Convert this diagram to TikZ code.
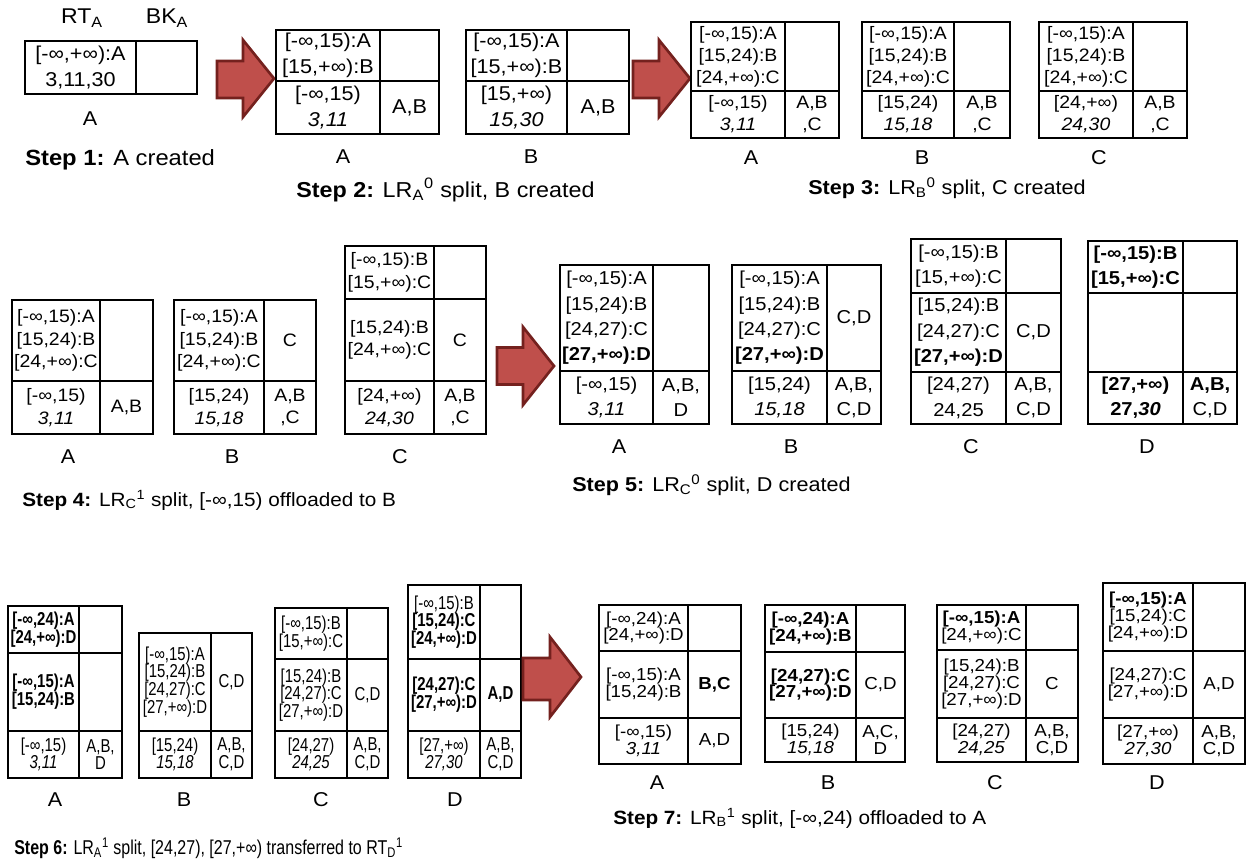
\documentclass[tikz,border=0pt]{standalone}
\usepackage{fontspec}
\setmainfont[FakeStretch=1.08]{Liberation Sans}
\newfontfamily\narrowf[FakeStretch=0.8]{Liberation Sans}
\definecolor{arrfill}{HTML}{BF4F4B}
\definecolor{arrdraw}{HTML}{74211E}
\tikzset{
  box/.style={line width=1.1pt},
  heavy/.style={line width=2pt},
  cA/.style={align=center,inner sep=0pt,font=\fontsize{15}{19}\selectfont},
  cB/.style={align=center,inner sep=0pt,font=\fontsize{13.5}{16.5}\selectfont},
  cC/.style={align=center,inner sep=0pt,font=\fontsize{13.5}{17}\selectfont},
  cD/.style={align=center,inner sep=0pt,font=\fontsize{14}{19}\selectfont},
  cE/.style={align=center,inner sep=0pt,font=\narrowf\fontsize{14}{13.3}\selectfont},
  cF/.style={align=center,inner sep=0pt,font=\fontsize{13}{12.5}\selectfont},
  lbl/.style={inner sep=0pt,font=\fontsize{15}{18}\selectfont},
  hdr/.style={inner sep=0pt,font=\fontsize{16}{19}\selectfont},
  captxt/.style={anchor=west,inner sep=0pt,font=\fontsize{15}{19}\selectfont},
  captxtn/.style={anchor=west,inner sep=0pt,font=\narrowf\fontsize{15}{16}\selectfont},
  bigarrow/.style={fill=arrfill,draw=arrdraw,line width=2pt,line join=miter}
}
\begin{document}
\begin{tikzpicture}[x=0.75pt,y=-0.75pt]
\useasboundingbox (0,0) rectangle (1247,862);
\fill[white] (0,0) rectangle (1247,862);

% ---------------- Step 1 ----------------
\node[hdr] (rta) at (82,18) {RT\textsubscript{A}};
\node[hdr] (bka) at (167,18) {BK\textsubscript{A}};
\draw[box] (25,41) rectangle (197,94) (136,41) -- (136,94);
\node[cA] (s1tl) at (80.5,67.5) {[-∞,+∞):A\\3,11,30};
\node[lbl] (s1l) at (90,119) {A};
\node[captxt,font=\fontsize{16.5}{19}\selectfont] (s1c) at (25,160) {\textbf{Step 1:} A created};

\draw[bigarrow] (217,61) -- (243,61) -- (243,40) -- (274,78.5) -- (243,117) -- (243,98) -- (217,98) -- cycle;

% ---------------- Step 2 ----------------
\draw[box] (276,30) rectangle (439,134) (380,30) -- (380,134) (276,81) -- (439,81);
\node[cA] (s2atl) at (328,55.5) {[-∞,15):A\\{}[15,+∞):B};
\node[cA] (s2abl) at (328,107.5) {[-∞,15)\\\textit{3,11}};
\node[cA] (s2abr) at (409.5,107.5) {A,B};
\node[lbl] (s2al) at (343,157) {A};
\draw[box] (466,30) rectangle (629,134) (567,30) -- (567,134) (466,81) -- (629,81);
\node[cA] (s2btl) at (516.5,55.5) {[-∞,15):A\\{}[15,+∞):B};
\node[cA] (s2bbl) at (516.5,107.5) {[15,+∞)\\\textit{15,30}};
\node[cA] (s2bbr) at (598,107.5) {A,B};
\node[lbl] (s2bl) at (531,157) {B};
\node[captxt,font=\fontsize{16.2}{19}\selectfont] (s2c) at (296,190) {\textbf{Step 2:} LR\textsubscript{A}\textsuperscript{0} split, B created};

\draw[bigarrow] (633,61) -- (659,61) -- (659,40) -- (690,78.5) -- (659,117) -- (659,98) -- (633,98) -- cycle;

% ---------------- Step 3 ----------------
\draw[box] (691,22) rectangle (839,138) (785,22) -- (785,138) (691,91) -- (839,91);
\node[cB] (s3atl) at (738,56.5) {[-∞,15):A\\{}[15,24):B\\{}[24,+∞):C};
\node[cB] (s3abl) at (738,114.5) {[-∞,15)\\\textit{3,11}};
\node[cB] (s3abr) at (812,114.5) {A,B\\,C};
\node[lbl] (s3al) at (751,158) {A};
\draw[box] (862,22) rectangle (1010,138) (954,22) -- (954,138) (862,91) -- (1010,91);
\node[cB] (s3btl) at (908,56.5) {[-∞,15):A\\{}[15,24):B\\{}[24,+∞):C};
\node[cB] (s3bbl) at (908,114.5) {[15,24)\\\textit{15,18}};
\node[cB] (s3bbr) at (982,114.5) {A,B\\,C};
\node[lbl] (s3bl) at (922,158) {B};
\draw[box] (1039,22) rectangle (1187,138) (1133,22) -- (1133,138) (1039,91) -- (1187,91);
\node[cB] (s3ctl) at (1086,56.5) {[-∞,15):A\\{}[15,24):B\\{}[24,+∞):C};
\node[cB] (s3cbl) at (1086,114.5) {[24,+∞)\\\textit{24,30}};
\node[cB] (s3cbr) at (1160,114.5) {A,B\\,C};
\node[lbl] (s3cl) at (1099,158) {C};
\node[captxt] (s3c) at (808,188) {\textbf{Step 3:} LR\textsubscript{B}\textsuperscript{0} split, C created};

% ---------------- Step 4 ----------------
\draw[box] (12,300) rectangle (153,434) (100,300) -- (100,434) (12,381) -- (153,381);
\node[cC] (s4atl) at (56,340.5) {[-∞,15):A\\{}[15,24):B\\{}[24,+∞):C};
\node[cC] (s4abl) at (56,407.5) {[-∞,15)\\\textit{3,11}};
\node[cC] (s4abr) at (126.5,407.5) {A,B};
\node[lbl] (s4al) at (68,457) {A};
\draw[box] (174,300) rectangle (316,434) (264,300) -- (264,434) (174,381) -- (316,381);
\node[cC] (s4btl) at (219,340.5) {[-∞,15):A\\{}[15,24):B\\{}[24,+∞):C};
\node[cC] (s4btr) at (290,340.5) {C};
\node[cC] (s4bbl) at (219,407.5) {[15,24)\\\textit{15,18}};
\node[cC] (s4bbr) at (290,407.5) {A,B\\,C};
\node[lbl] (s4bl) at (232,457) {B};
\draw[box] (345,246) rectangle (486,434) (434,246) -- (434,434) (345,299) -- (486,299) (345,381) -- (486,381);
\node[cC] (s4ctl) at (389.5,272.5) {[-∞,15):B\\{}[15,+∞):C};
\node[cC] (s4cml) at (389.5,340) {[15,24):B\\{}[24,+∞):C};
\node[cC] (s4cmr) at (460,340) {C};
\node[cC] (s4cbl) at (389.5,407.5) {[24,+∞)\\\textit{24,30}};
\node[cC] (s4cbr) at (460,407.5) {A,B\\,C};
\node[lbl] (s4cl) at (400,457) {C};
\node[captxt,font=\fontsize{14.4}{19}\selectfont] (s4c) at (22,500) {\textbf{Step 4:} LR\textsubscript{C}\textsuperscript{1} split, [-∞,15) offloaded to B};

\draw[bigarrow] (497,347.5) -- (523,347.5) -- (523,327) -- (554,366) -- (523,405) -- (523,384.5) -- (497,384.5) -- cycle;

% ---------------- Step 5 ----------------
\draw[box] (560,265) rectangle (709,424) (653,265) -- (653,424) (560,371) -- (709,371);
\node[cD] (s5atl) at (606.5,318) {[-∞,15):A\\{}[15,24):B\\{}[24,27):C\\\textbf{[27,+∞):D}};
\node[cD] (s5abl) at (606.5,397.5) {[-∞,15)\\\textit{3,11}};
\node[cD] (s5abr) at (681,397.5) {A,B,\\D};
\node[lbl] (s5al) at (619,447) {A};
\draw[box] (732,265) rectangle (881,424) (827,265) -- (827,424) (732,371) -- (881,371);
\node[cD] (s5btl) at (779.5,318) {[-∞,15):A\\{}[15,24):B\\{}[24,27):C\\\textbf{[27,+∞):D}};
\node[cD] (s5btr) at (854,318) {C,D};
\node[cD] (s5bbl) at (779.5,397.5) {[15,24)\\\textit{15,18}};
\node[cD] (s5bbr) at (854,397.5) {A,B,\\C,D};
\node[lbl] (s5bl) at (791,447) {B};
\draw[box] (911,239) rectangle (1061,424) (1006,239) -- (1006,424) (911,293) -- (1061,293) (911,372) -- (1061,372);
\node[cD] (s5ctl) at (958.5,266) {[-∞,15):B\\{}[15,+∞):C};
\node[cD] (s5cml) at (958.5,332.5) {[15,24):B\\{}[24,27):C\\\textbf{[27,+∞):D}};
\node[cD] (s5cmr) at (1033.5,332.5) {C,D};
\node[cD] (s5cbl) at (958.5,398) {[24,27)\\24,25};
\node[cD] (s5cbr) at (1033.5,398) {A,B,\\C,D};
\node[lbl] (s5cl) at (971,447) {C};
\draw[box] (1088,241) rectangle (1237,424) (1183,241) -- (1183,424) (1088,293) -- (1237,293) (1088,372) -- (1237,372);
\node[cD] (s5dtl) at (1135.5,267) {\textbf{[-∞,15):B}\\\textbf{[15,+∞):C}};
\node[cD] (s5dbl) at (1135.5,398) {\textbf{[27,+∞)}\\\textbf{27,\textit{30}}};
\node[cD] (s5dbr) at (1210,398) {\textbf{A,B,}\\C,D};
\node[lbl] (s5dl) at (1147,447) {D};
\node[captxt] (s5c) at (572,485) {\textbf{Step 5:} LR\textsubscript{C}\textsuperscript{0} split, D created};

% ---------------- Step 6 ----------------
\draw[box] (8,606) rectangle (122,778) (79,606) -- (79,778) (8,653) -- (122,653) (8,731) -- (122,731);
\node[cE] (s6atl) at (43.5,629.5) {\textbf{[-∞,24):A}\\\textbf{[24,+∞):D}};
\node[cE] (s6aml) at (43.5,692) {\textbf{[-∞,15):A}\\\textbf{[15,24):B}};
\node[cE] (s6abl) at (43.5,754.5) {[-∞,15)\\\textit{3,11}};
\node[cE] (s6abr) at (100.5,754.5) {A,B,\\D};
\node[lbl] (s6al) at (55,800) {A};
\draw[box] (139,633) rectangle (252,778) (211,633) -- (211,778) (139,731) -- (252,731);
\node[cE] (s6btl) at (175,682) {[-∞,15):A\\{}[15,24):B\\{}[24,27):C\\{}[27,+∞):D};
\node[cE] (s6btr) at (231.5,682) {C,D};
\node[cE] (s6bbl) at (175,754.5) {[15,24)\\\textit{15,18}};
\node[cE] (s6bbr) at (231.5,754.5) {A,B,\\C,D};
\node[lbl] (s6bl) at (184,800) {B};
\draw[box] (275,608) rectangle (388,778) (347,608) -- (347,778) (275,659) -- (388,659) (275,731) -- (388,731);
\node[cE] (s6ctl) at (311,633.5) {[-∞,15):B\\{}[15,+∞):C};
\node[cE] (s6cml) at (311,695) {[15,24):B\\{}[24,27):C\\{}[27,+∞):D};
\node[cE] (s6cmr) at (367.5,695) {C,D};
\node[cE] (s6cbl) at (311,754.5) {[24,27)\\\textit{24,25}};
\node[cE] (s6cbr) at (367.5,754.5) {A,B,\\C,D};
\node[lbl] (s6cl) at (321,800) {C};
\draw[box] (408,585) rectangle (521,778) (480,585) -- (480,778) (408,731) -- (521,731);
\draw[heavy] (408,659) -- (521,659);
\node[cE] (s6dtl) at (444,622) {[-∞,15):B\\\textbf{[15,24):C}\\\textbf{[24,+∞):D}};
\node[cE] (s6dml) at (444,695) {\textbf{[24,27):C}\\\textbf{[27,+∞):D}};
\node[cE] (s6dmr) at (500.5,695) {\textbf{A,D}};
\node[cE] (s6dbl) at (444,754.5) {[27,+∞)\\\textit{27,30}};
\node[cE] (s6dbr) at (500.5,754.5) {A,B,\\C,D};
\node[lbl] (s6dl) at (455,800) {D};
\node[captxtn] (s6c) at (14,848) {\textbf{Step 6:} LR\textsubscript{A}\textsuperscript{1} split, [24,27), [27,+∞) transferred to RT\textsubscript{D}\textsuperscript{1}};

\draw[bigarrow] (523,658) -- (550,658) -- (550,637) -- (581,677) -- (550,717) -- (550,700) -- (523,700) -- cycle;

% ---------------- Step 7 ----------------
\draw[box] (599,605) rectangle (741,764) (688,605) -- (688,764) (599,718) -- (741,718);
\draw[heavy] (599,651) -- (741,651);
\node[cF] (s7atl) at (643.5,628) {[-∞,24):A\\{}[24,+∞):D};
\node[cF] (s7aml) at (643.5,684.5) {[-∞,15):A\\{}[15,24):B};
\node[cF] (s7amr) at (714.5,684.5) {\textbf{B,C}};
\node[cF] (s7abl) at (643.5,741) {[-∞,15)\\\textit{3,11}};
\node[cF] (s7abr) at (714.5,741) {A,D};
\node[lbl] (s7al) at (657,783) {A};
\draw[box] (765,605) rectangle (905,762) (856,605) -- (856,762) (765,652) -- (905,652) (765,718) -- (905,718);
\node[cF] (s7btl) at (810.5,628.5) {\textbf{[-∞,24):A}\\\textbf{[24,+∞):B}};
\node[cF] (s7bml) at (810.5,685) {\textbf{[24,27):C}\\\textbf{[27,+∞):D}};
\node[cF] (s7bmr) at (880.5,685) {C,D};
\node[cF] (s7bbl) at (810.5,740) {[15,24)\\\textit{15,18}};
\node[cF] (s7bbr) at (880.5,740) {A,C,\\D};
\node[lbl] (s7bl) at (828,783) {B};
\draw[box] (937,605) rectangle (1078,762) (1026,605) -- (1026,762) (937,650) -- (1078,650) (937,718) -- (1078,718);
\node[cF] (s7ctl) at (981.5,627.5) {\textbf{[-∞,15):A}\\{}[24,+∞):C};
\node[cF] (s7cml) at (981.5,684) {[15,24):B\\{}[24,27):C\\{}[27,+∞):D};
\node[cF] (s7cmr) at (1052,684) {C};
\node[cF] (s7cbl) at (981.5,740) {[24,27)\\\textit{24,25}};
\node[cF] (s7cbr) at (1052,740) {A,B,\\C,D};
\node[lbl] (s7cl) at (995,783) {C};
\draw[box] (1103,583) rectangle (1245,764) (1193,583) -- (1193,764) (1103,718) -- (1245,718);
\draw[heavy] (1103,651) -- (1245,651);
\node[cF] (s7dtl) at (1148,617) {\textbf{[-∞,15):A}\\{}[15,24):C\\{}[24,+∞):D};
\node[cF] (s7dml) at (1148,684.5) {[24,27):C\\{}[27,+∞):D};
\node[cF] (s7dmr) at (1219,684.5) {A,D};
\node[cF] (s7dbl) at (1148,741) {[27,+∞)\\\textit{27,30}};
\node[cF] (s7dbr) at (1219,741) {A,B,\\C,D};
\node[lbl] (s7dl) at (1157,783) {D};
\node[captxt,font=\fontsize{14.4}{19}\selectfont] (s7c) at (613,818) {\textbf{Step 7:} LR\textsubscript{B}\textsuperscript{1} split, [-∞,24) offloaded to A};
\end{tikzpicture}
\end{document}
